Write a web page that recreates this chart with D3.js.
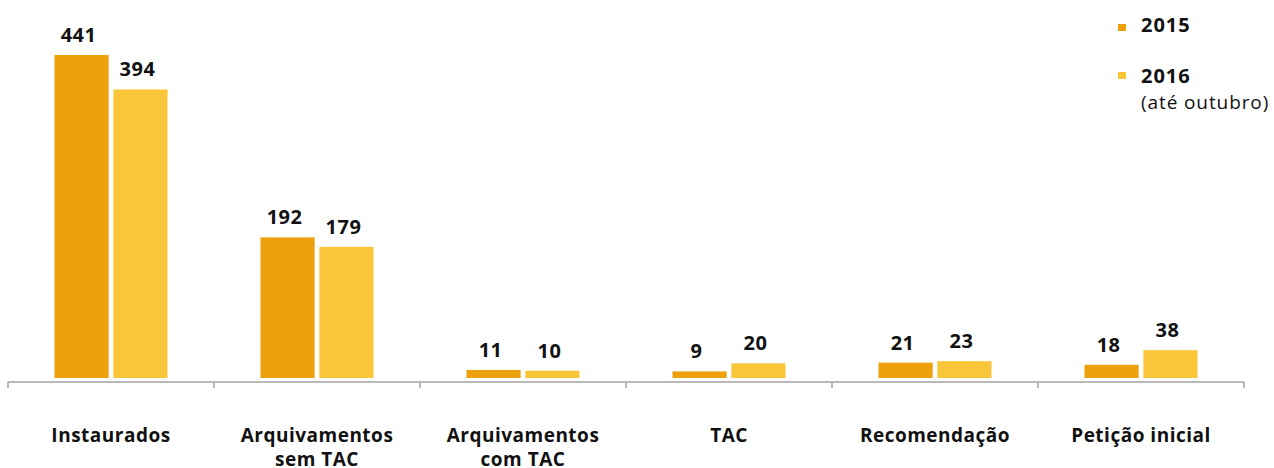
<!DOCTYPE html>
<html>
<head>
<meta charset="utf-8">
<script src="https://cdn.jsdelivr.net/npm/d3@7"></script>
<style>
  html, body { margin: 0; padding: 0; background: #fff; }
  svg { display: block; }
  text { font-family: "Open Sans", Lato, sans-serif; fill: #111; }
</style>
</head>
<body>
<svg id="chart" width="1274" height="468"></svg>
<script>
// Procedimentos por tipo, 2015 x 2016 (até outubro)
const categories = [
  ["Instaurados"],
  ["Arquivamentos", "sem TAC"],
  ["Arquivamentos", "com TAC"],
  ["TAC"],
  ["Recomendação"],
  ["Petição inicial"]
];
const years = ["2015", "2016"];
const values2015 = [441, 192, 11, 9, 21, 18];
const values2016 = [394, 179, 10, 20, 23, 38];
const legendNotes = ["", "(até outubro)"];

const colors = { "2015": "#EBA00C", "2016": "#F9C63A" };

const svg = d3.select("#chart");
const left = 8, right = 1244, baseY = 378, axisY = 382;

const keys = categories.map(c => c.join(" "));
const x0 = d3.scaleBand().domain(keys).range([left, right]).padding(0);
const bw = x0.bandwidth();
const x1 = d3.scaleBand().domain(years)
  .range([bw / 2 - 56.5, bw / 2 + 56.5]).paddingInner(0.08).paddingOuter(0);
const y = d3.scaleLinear().domain([0, 441]).range([baseY, 55]);

const rows = keys.map((k, i) => ({
  key: k, lines: categories[i],
  vals: [{ year: "2015", v: values2015[i] }, { year: "2016", v: values2016[i] }]
}));

// bars
const groups = svg.append("g").selectAll("g").data(rows).join("g")
  .attr("transform", d => `translate(${x0(d.key)},0)`);

groups.selectAll("rect").data(d => d.vals).join("rect")
  .attr("x", d => x1(d.year))
  .attr("width", x1.bandwidth())
  .attr("y", d => y(d.v))
  .attr("height", d => baseY - y(d.v))
  .attr("fill", d => colors[d.year]);

// value labels
groups.selectAll("text.val").data(d => d.vals).join("text")
  .attr("class", "val")
  .attr("x", d => x1(d.year) + x1.bandwidth() / 2 - 3)
  .attr("y", d => y(d.v) - 13)
  .attr("text-anchor", "middle")
  .attr("font-size", 20)
  .attr("font-weight", 700)
  .attr("letter-spacing", 0.5)
  .text(d => d.v);

// axis line with boundary ticks
const axis = svg.append("g");
axis.append("line")
  .attr("x1", left).attr("x2", right)
  .attr("y1", axisY).attr("y2", axisY)
  .attr("stroke", "#b9b9b9").attr("stroke-width", 2);
const boundaries = keys.map(k => x0(k)).concat([right]);
axis.selectAll("line.tick").data(boundaries).join("line")
  .attr("class", "tick")
  .attr("x1", d => d).attr("x2", d => d)
  .attr("y1", axisY).attr("y2", axisY + 6)
  .attr("stroke", "#b9b9b9").attr("stroke-width", 2);

// category labels, one text per line
const cat = svg.append("g").selectAll("g").data(rows).join("g");
cat.selectAll("text").data(d => d.lines.map((t, i) => ({ t, i, cx: x0(d.key) + bw / 2 }))).join("text")
  .attr("x", d => d.cx)
  .attr("y", d => 442 + d.i * 24)
  .attr("text-anchor", "middle")
  .attr("font-size", 19)
  .attr("font-weight", 700)
  .attr("letter-spacing", 0.5)
  .text(d => d.t);

// legend
const legendSquareY = [24, 72];
const legendTextY = [32, 83];
const legend = svg.append("g").selectAll("g").data(years).join("g");
legend.append("rect")
  .attr("x", 1118).attr("y", (d, i) => legendSquareY[i])
  .attr("width", 8).attr("height", 7)
  .attr("fill", d => colors[d]);
legend.append("text")
  .attr("x", 1141).attr("y", (d, i) => legendTextY[i])
  .attr("font-size", 20).attr("font-weight", 700)
  .attr("letter-spacing", 1)
  .text(d => d);
legend.append("text")
  .attr("x", 1141).attr("y", (d, i) => legendTextY[i] + 26)
  .attr("font-size", 19)
  .attr("letter-spacing", 0.9)
  .text((d, i) => legendNotes[i]);
</script>
</body>
</html>
